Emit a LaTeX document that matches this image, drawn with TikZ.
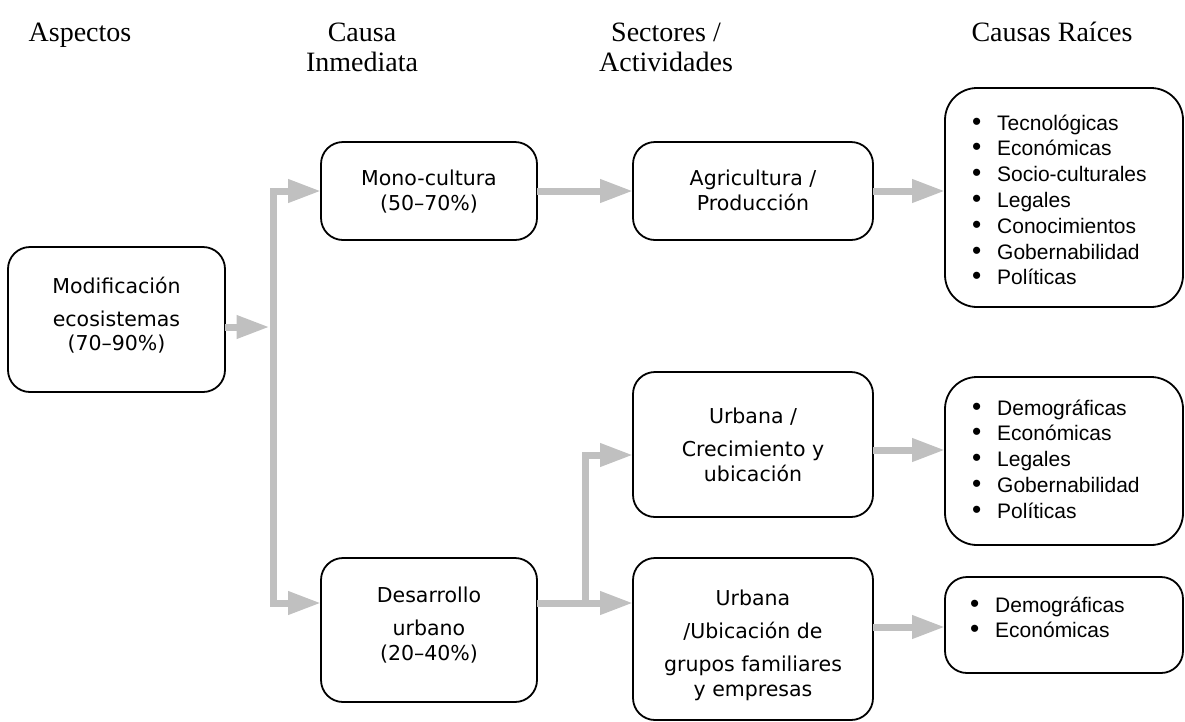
\documentclass[tikz,border=0pt]{standalone}
\usepackage{fontspec}
\usepackage{graphicx}
\newfontfamily\headfont{Liberation Serif}
\newfontfamily\boxfont{DejaVu Sans}
\newfontfamily\listfont{Liberation Sans}
\usetikzlibrary{arrows.meta,calc}
\definecolor{flowgray}{RGB}{192,192,192}

\begin{document}
\begin{tikzpicture}[x=1pt,y=-1pt,
  box/.style={draw=black, line width=1.8pt, rounded corners=22pt, inner sep=0pt, outer sep=0pt},
  bigbox/.style={box, rounded corners=32pt},
  flow/.style={draw=flowgray, line width=7pt, -{Triangle[length=33pt,width=22pt]}},
  head/.style={font=\headfont\fontsize{28}{30}\selectfont, inner sep=0pt, anchor=base},
  boxtext/.style={font=\boxfont\fontsize{20.5}{33}\selectfont, inner sep=0pt, anchor=base},
  itemtext/.style={font=\listfont\fontsize{21}{25.8}\selectfont, inner sep=0pt, anchor=base west}
]
\useasboundingbox (0,0) rectangle (1185,721);

\newcommand{\bul}{\makebox[25pt][l]{\scalebox{1.25}{\textbullet}}}

% column headings
\node[head] (h1) at (80,41) {Aspectos};
\node[head] (h2) at (362,41) {\begin{tabular}[t]{@{}c@{}}Causa\\Inmediata\end{tabular}};
\node[head] (h3) at (666,41) {\begin{tabular}[t]{@{}c@{}}Sectores /\\Actividades\end{tabular}};
\node[head] (h4) at (1052,41) {Causas Raíces};

% boxes
\node[box, minimum width=217pt, minimum height=145pt] (modif) at (116.5,319.5) {};
\node[box, minimum width=216pt, minimum height=98pt]  (mono)  at (429,191) {};
\node[box, minimum width=216pt, minimum height=144pt] (des)   at (429,630) {};
\node[box, minimum width=240pt, minimum height=98pt]  (agri)  at (753,191) {};
\node[box, minimum width=240pt, minimum height=145pt] (crec)  at (753,444.5) {};
\node[box, minimum width=240pt, minimum height=162pt] (ubic)  at (753,639) {};
\node[bigbox, minimum width=238pt, minimum height=219pt] (r1) at (1064,197.5) {};
\node[bigbox, minimum width=238pt, minimum height=168pt] (r2) at (1064,461) {};
\node[box, minimum width=238pt, minimum height=96pt]  (r3)    at (1064,625) {};

% box texts
\node[boxtext] (modif-t) at (116.5,293) {\begin{tabular}[t]{@{}c@{}}Modificación\\ecosistemas\\[-9pt](70–90\%)\end{tabular}};
\node[boxtext] (mono-t) at (429,185) {\begin{tabular}[t]{@{}c@{}}Mono-cultura\\[-8pt](50–70\%)\end{tabular}};
\node[boxtext] (des-t) at (429,602) {\begin{tabular}[t]{@{}c@{}}Desarrollo\\urbano\\[-8pt](20–40\%)\end{tabular}};
\node[boxtext] (agri-t) at (753,185) {\begin{tabular}[t]{@{}c@{}}Agricultura /\\[-8pt]Producción\end{tabular}};
\node[boxtext] (crec-t) at (753,423) {\begin{tabular}[t]{@{}c@{}}Urbana /\\Crecimiento y\\[-8pt]ubicación\end{tabular}};
\node[boxtext] (ubic-t) at (753,605) {\begin{tabular}[t]{@{}c@{}}Urbana\\/Ubicación de\\grupos familiares\\[-8pt]y empresas\end{tabular}};

% root-cause lists
\node[itemtext] (r1-t) at (972,130) {\begin{tabular}[t]{@{}l@{}}
  \bul Tecnológicas\\ \bul Económicas\\ \bul Socio-culturales\\ \bul Legales\\
  \bul Conocimientos\\ \bul Gobernabilidad\\ \bul Políticas\end{tabular}};
\node[itemtext] (r2-t) at (972,415) {\begin{tabular}[t]{@{}l@{}}
  \bul Demográficas\\ \bul Económicas\\ \bul Legales\\ \bul Gobernabilidad\\
  \bul Políticas\end{tabular}};
\node[itemtext] (r3-t) at (970,612) {\begin{tabular}[t]{@{}l@{}}
  \bul Demográficas\\ \bul Económicas\end{tabular}};

% connector rows and junctions
\coordinate (bus)  at (273,327);
\coordinate (drow) at (0,603);
\coordinate (fork) at (585,603);
\coordinate (crow) at (0,455);
\coordinate (r2row) at (0,450);
\coordinate (r3row) at (0,627);

% connectors
\draw[flow, shorten >=3.5pt] (modif.east |- bus) -- (bus);
\draw[flow] (bus) |- (mono.west);
\draw[flow] (bus) |- (des.west |- drow);
\draw[flow] (mono.east) -- (agri.west);
\draw[flow] (agri.east) -- (agri.east -| r1.west);
\draw[flow] (des.east |- drow) -- (ubic.west |- drow);
\draw[flow] (fork) |- (crec.west |- crow);
\draw[flow] (crec.east |- r2row) -- (r2.west |- r2row);
\draw[flow] (ubic.east |- r3row) -- (r3.west |- r3row);
\end{tikzpicture}
\end{document}
